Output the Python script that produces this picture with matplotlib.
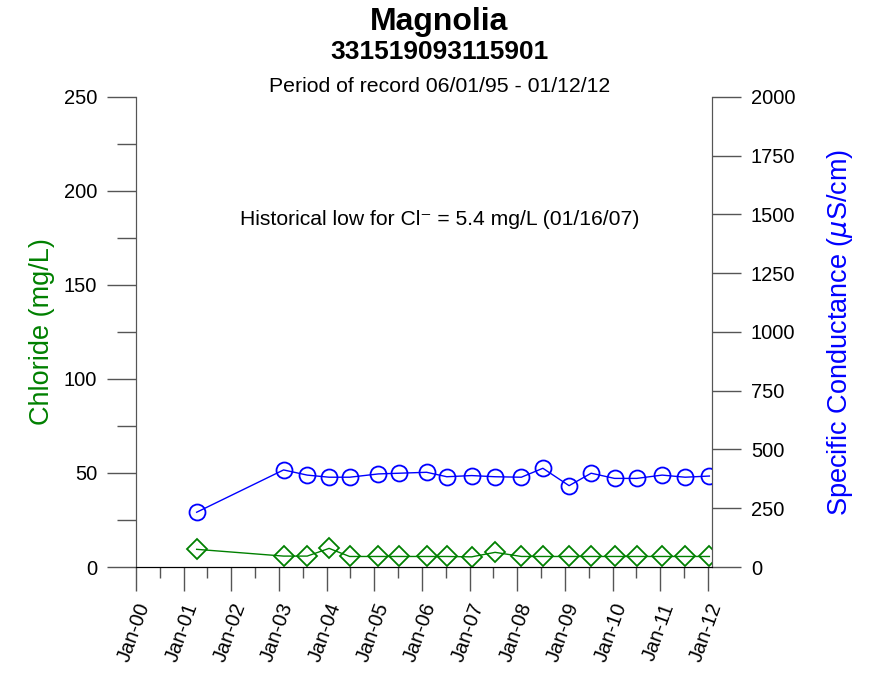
import pandas as pd
import matplotlib
matplotlib.use("Agg")
import matplotlib.pyplot as plt
import matplotlib.dates as mdates

plt.rcParams["font.family"] = ["Liberation Sans", "DejaVu Sans"]

# sample dates
dates = pd.to_datetime([
    "2001-04-10", "2003-02-05", "2003-08-05", "2004-01-20", "2004-06-25",
    "2005-02-01", "2005-07-10", "2006-02-05", "2006-07-10", "2007-01-16",
    "2007-07-15", "2008-02-01", "2008-07-15", "2009-02-01", "2009-07-20",
    "2010-01-15", "2010-07-05", "2011-01-15", "2011-07-10", "2012-01-12",
])
chloride = [9.4, 5.8, 5.8, 9.9, 5.6, 5.6, 5.6, 5.6, 5.6, 5.4,
            7.8, 5.6, 5.6, 5.6, 5.6, 5.6, 5.6, 5.6, 5.6, 5.6]
conductance = [233, 413, 391, 382, 382, 396, 399, 403, 384, 389,
               384, 382, 420, 346, 399, 377, 377, 391, 382, 387]

green = "#008000"
blue = "#0000ff"
axcol = "#555555"

fig = plt.figure(figsize=(8.79, 6.73), dpi=100)
ax = fig.add_axes([0.1547, 0.1575, 0.6553, 0.6985])
ax2 = ax.twinx()

ax.plot(dates, chloride, color=green, lw=1, marker="D", ms=10,
        mfc="none", mec=green, mew=1.3)
ax2.plot(dates, conductance, color=blue, lw=1, marker="o", ms=11.5,
         mfc="none", mec=blue, mew=1.3)

ax.set_ylim(0, 250)
ax.set_yticks(range(0, 251, 50))
ax.set_yticks(range(25, 250, 50), minor=True)
ax2.set_ylim(0, 2000)
ax2.set_yticks(range(0, 2001, 250))

ax.set_xlim(pd.Timestamp("2000-01-01"), pd.Timestamp("2012-02-01"))
ax.xaxis.set_major_locator(mdates.YearLocator())
ax.xaxis.set_minor_locator(mdates.MonthLocator(bymonth=7))
ax.xaxis.set_major_formatter(mdates.DateFormatter("%b-%y"))
for lab in ax.get_xticklabels():
    lab.set_rotation(70)
    lab.set_ha("right")
    lab.set_rotation_mode("anchor")

for a in (ax, ax2):
    a.spines["top"].set_visible(False)
    a.spines["left"].set_color(axcol)
    a.spines["right"].set_color(axcol)
    a.tick_params(which="major", length=21, width=1, labelsize=14.5,
                  direction="out", color=axcol, pad=7)
    a.tick_params(which="minor", length=14, width=1, direction="out", color=axcol)
ax.tick_params(axis="x", which="major", length=17, pad=7, color=axcol)
ax.tick_params(axis="x", which="minor", length=8, color=axcol)

ax.set_ylabel("Chloride (mg/L)", color=green, fontsize=19.5, labelpad=6)
ax2.set_ylabel(r"Specific Conductance ($\mu$S/cm)", color=blue, fontsize=19.5, labelpad=21)

ax.text(0.528, 0.74, "Historical low for Cl\u207b = 5.4 mg/L (01/16/07)",
        transform=ax.transAxes, ha="center", va="center", fontsize=15.2)

fig.text(0.5, 0.967, "Magnolia", ha="center", va="center", fontsize=23, fontweight="bold")
fig.text(0.5, 0.922, "331519093115901", ha="center", va="center", fontsize=19, fontweight="bold")
fig.text(0.5, 0.872, "Period of record 06/01/95 - 01/12/12", ha="center", va="center", fontsize=15.3)

fig.savefig("out.png", dpi=100)
